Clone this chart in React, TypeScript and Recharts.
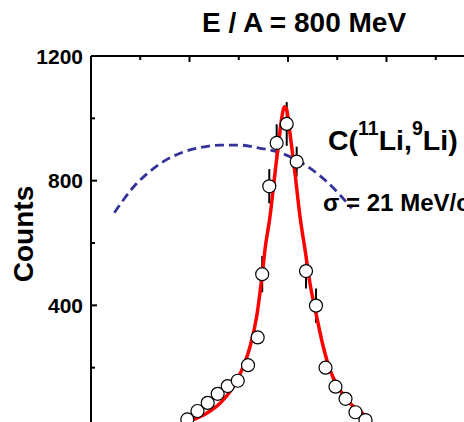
import React from 'react';
import { ComposedChart, Scatter, Line, XAxis, YAxis, ErrorBar } from 'recharts';

// momentum (MeV/c), counts, error
const pointP = [-102.2, -91.9, -81.5, -71.4, -61.2, -51, -40.6, -30.8, -26.2, -19, -11.5, -1.3, 8.8, 18.3, 28.4, 38.1, 48.2, 58.4, 68.5, 78.7];
const pointCounts = [34, 61, 87, 116, 141, 158, 208, 297, 500, 782, 921, 982, 861, 510, 399, 200, 139, 100, 57, 32];
const pointErr = [12, 12, 12, 12, 12, 12, 14, 18, 58, 55, 60, 70, 48, 56, 55, 16, 14, 12, 12, 12];

// red fit (narrow)
const fitP = [-99.5, -82.5, -69, -55.5, -45.4, -38.6, -31.8, -25.7, -23.4, -18.3, -13.2, -8.8, -6.4, -3.6, -1.3, 2, 7.1, 12.2, 17.3, 22.3, 29.1, 35.8, 42.6, 52.8, 64.7, 76.4, 78.2];
const fitCounts = [30, 54, 86, 139, 203, 267, 364, 513, 578, 684, 824, 941, 1000, 1037, 1027, 952, 824, 684, 578, 471, 364, 267, 193, 128, 80, 51, 43];

// blue dashed (broad)
const broadP = [-176.3, -167.2, -157.1, -143.5, -126.6, -109.6, -89.3, -69, -48.7, -28.4, -11.5, 5.4, 22.3, 39.3, 52.8, 64.7];
const broadCounts = [697, 738, 779, 821, 861, 888, 906, 914, 914, 904, 893, 872, 840, 797, 754, 711];

const xTicks = [-200, -150, -100, -50, 0, 50, 100, 150, 200];
const yTicks = [0, 200, 400, 600, 800, 1000, 1200];

const points = pointP.map((p, i) => ({ p, c: pointCounts[i], err: pointErr[i] }));
const fit = fitP.map((p, i) => ({ p, c: fitCounts[i] }));
const broad = broadP.map((p, i) => ({ p, c: broadCounts[i] }));

const FONT = '"Liberation Sans", Arial, Helvetica, sans-serif';
const GAP = 8;

const YTick = (props: any) => {
  const { x, y, payload } = props;
  const major = payload.value % 400 === 0;
  const ax = x + GAP;
  return (
    <g>
      <line x1={ax} y1={y} x2={ax + (major ? 6 : 4)} y2={y} stroke="#000" strokeWidth={2} />
      {major && (
        <text x={x} y={y} dy="0.36em" textAnchor="end" fontFamily={FONT} fontWeight="bold" fontSize={21} fill="#000">
          {payload.value}
        </text>
      )}
    </g>
  );
};

const XTopTick = (props: any) => {
  const { x, y, payload } = props;
  const major = payload.value % 100 === 0;
  return <line x1={x} y1={y} x2={x} y2={y + (major ? 6 : 4)} stroke="#000" strokeWidth={2} />;
};

const Dot = (props: any) => {
  const { cx, cy } = props;
  return <circle cx={cx} cy={cy} r={6.5} fill="#fff" stroke="#000" strokeWidth={1.2} />;
};

export default function App() {
  return (
    <div style={{ position: 'absolute', left: 0, top: 0, width: 464, height: 422, overflow: 'hidden', background: '#fff' }}>
      <ComposedChart width={520} height={480} margin={{ top: 55, right: 35, bottom: 50, left: 90 }}>
        <XAxis
          type="number"
          dataKey="p"
          orientation="top"
          domain={[-200, 200]}
          ticks={xTicks}
          interval={0}
          height={1}
          tickSize={0}
          tickMargin={0}
          axisLine={{ stroke: '#000', strokeWidth: 2 }}
          tickLine={false}
          tick={<XTopTick />}
          allowDataOverflow
        />
        <YAxis
          type="number"
          dataKey="c"
          domain={[0, 1200]}
          ticks={yTicks}
          interval={0}
          width={1}
          tickSize={0}
          tickMargin={GAP}
          axisLine={{ stroke: '#000', strokeWidth: 2 }}
          tickLine={false}
          tick={<YTick />}
          allowDataOverflow
        />
        <Scatter data={points} dataKey="c" shape={<Dot />} isAnimationActive={false}>
          <ErrorBar dataKey="err" direction="y" width={0} stroke="#000" strokeWidth={2} />
        </Scatter>
        <Line data={broad} dataKey="c" type="monotone" stroke="#333399" strokeWidth={2.8}
          strokeDasharray="9 5" dot={false} isAnimationActive={false} />
        <Line data={fit} dataKey="c" type="monotone" stroke="#ff0000" strokeWidth={3.5}
          dot={false} isAnimationActive={false} />
      </ComposedChart>
      <svg width={464} height={422} style={{ position: 'absolute', left: 0, top: 0, pointerEvents: 'none' }}>
        <text x={304} y={32} textAnchor="middle" fontFamily={FONT} fontWeight="bold" fontSize={28} fill="#000">
          E / A = 800 MeV
        </text>
        <text x={33} y={234} transform="rotate(-90 33 234)" textAnchor="middle" fontFamily={FONT} fontWeight="bold" fontSize={28} fill="#000">
          Counts
        </text>
        <text x={328} y={150} fontFamily={FONT} fontWeight="bold" fontSize={28.5} fill="#000">
          C(<tspan dy={-15} fontSize={19.5}>11</tspan><tspan dy={15}>Li,</tspan><tspan dy={-15} fontSize={19.5}>9</tspan><tspan dy={15}>Li)</tspan>
        </text>
        <text x={323} y={211} fontFamily={FONT} fontWeight="bold" fontSize={24} fill="#000">
          σ = 21 MeV/c
        </text>
      </svg>
    </div>
  );
}
